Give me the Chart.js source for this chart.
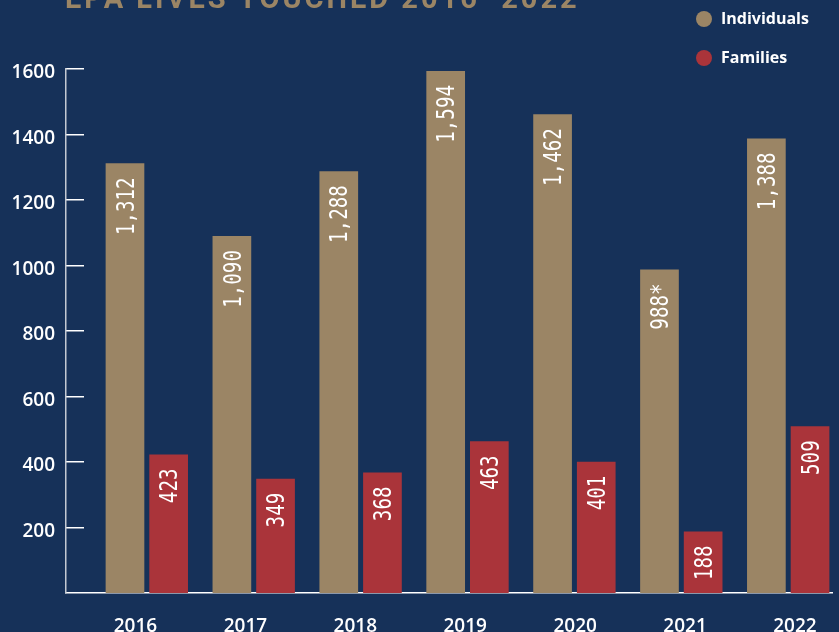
<!DOCTYPE html>
<html>
<head>
<meta charset="utf-8">
<script src="https://cdn.jsdelivr.net/npm/chart.js@4.4.1/dist/chart.umd.min.js"></script>
<style>
  html, body { margin: 0; padding: 0; background: #163159; overflow: hidden; }
  #wrap { position: relative; width: 839px; height: 660px; }
</style>
</head>
<body>
<div id="wrap"><canvas id="chart"></canvas></div>
<script>
"use strict";

    // データ
    const chartTitle = 'EPA LIVES TOUCHED 2016–2022';
    const years = ['2016', '2017', '2018', '2019', '2020', '2021', '2022'];
    const individuals = [1312, 1090, 1288, 1594, 1462, 988, 1388];
    const families = [423, 349, 368, 463, 401, 188, 509];
    const individualLabels = ['1,312', '1,090', '1,288', '1,594', '1,462', '988*', '1,388'];
    const familyLabels = ['423', '349', '368', '463', '401', '188', '509'];
    const yTicks = [200, 400, 600, 800, 1000, 1200, 1400, 1600];

    const TAN = '#9b8565';
    const RED = '#aa343a';

    // 棒の中の縦書きラベル
    const barText = {
        id: 'barText',
        afterDatasetsDraw(chart) {
            const ctx = chart.ctx;
            chart.data.datasets.forEach((ds, di) => {
                const meta = chart.getDatasetMeta(di);
                meta.data.forEach((bar, i) => {
                    ctx.save();
                    ctx.translate(bar.x, bar.y + 14);
                    ctx.rotate(-Math.PI / 2);
                    ctx.scale(0.8, 1);
                    ctx.font = '24px "DejaVu Sans Mono"';
                    ctx.fillStyle = '#ffffff';
                    ctx.textAlign = 'right';
                    ctx.textBaseline = 'alphabetic';
                    ctx.fillText(ds.valueLabels[i], 0, 8.7);
                    ctx.restore();
                });
            });
        }
    };

    // タイトルと凡例
    const header = {
        id: 'header',
        afterDraw(chart) {
            const ctx = chart.ctx;
            ctx.save();
            ctx.font = 'bold 29px Roboto';
            ctx.letterSpacing = '3px';
            ctx.fillStyle = TAN;
            ctx.textAlign = 'left';
            ctx.textBaseline = 'alphabetic';
            ctx.fillText(chartTitle, 65, 8);
            ctx.letterSpacing = '0px';

            chart.data.datasets.forEach((ds, i) => {
                const y = 19 + i * 39;
                ctx.beginPath();
                ctx.arc(704, y, 8, 0, Math.PI * 2);
                ctx.fillStyle = ds.backgroundColor;
                ctx.fill();
                ctx.font = 'bold 16px "Open Sans"';
                ctx.fillStyle = '#ffffff';
                ctx.textBaseline = 'middle';
                ctx.fillText(ds.label, 721, y);
            });
            ctx.restore();
        }
    };

    const yearTicks = (scale) => {
        scale.ticks = years.map((y, i) => ({ value: i }));
    };

    const ctx = document.getElementById('chart').getContext('2d');
    const chart = new Chart(ctx, {
        type: 'bar',
        data: {
            datasets: [{
                label: 'Individuals',
                data: individuals.map((v, i) => ({ x: i, y: v })),
                valueLabels: individualLabels,
                backgroundColor: TAN,
                categoryPercentage: 0.817,
                barPercentage: 0.886,
            }, {
                label: 'Families',
                data: families.map((v, i) => ({ x: i, y: v })),
                valueLabels: familyLabels,
                backgroundColor: RED,
                categoryPercentage: 0.817,
                barPercentage: 0.886,
            }]
        },
        options: {
            responsive: true,
            maintainAspectRatio: false,
            animation: false,
            layout: { padding: { top: 69, left: 0, right: 0, bottom: 0 } },
            plugins: {
                legend: { display: false },
                tooltip: { enabled: false },
            },
            scales: {
                x: {
                    type: 'linear',
                    display: false,
                    offset: false,
                    min: -0.756,
                    max: 6.418,
                    afterBuildTicks: yearTicks,
                },
                x2: {
                    type: 'linear',
                    position: 'bottom',
                    offset: false,
                    min: -0.632,
                    max: 6.345,
                    grid: { display: false, drawTicks: false, offset: false },
                    border: { display: true, color: '#ffffff', width: 1.5 },
                    afterBuildTicks: yearTicks,
                    afterFit: (scale) => { scale.height = 67; },
                    ticks: {
                        autoSkip: false,
                        maxRotation: 0,
                        padding: 22,
                        color: '#ffffff',
                        font: { family: '"Open Sans"', size: 19, weight: '600' },
                        callback: (v) => years[v],
                    }
                },
                y: {
                    min: 0,
                    max: 1600,
                    afterBuildTicks: (scale) => {
                        scale.ticks = yTicks.map(v => ({ value: v }));
                    },
                    afterFit: (scale) => { scale.width = 66; },
                    grid: {
                        drawOnChartArea: false,
                        drawTicks: true,
                        tickLength: -18,
                        color: '#ffffff',
                        lineWidth: 1.5,
                    },
                    border: { display: true, color: '#c3c9d3', width: 1.5 },
                    ticks: {
                        padding: 29,
                        labelOffset: 4,
                        color: '#ffffff',
                        font: { family: '"Open Sans"', size: 19, weight: '600' },
                        callback: (v) => String(v),
                    }
                }
            }
        },
        plugins: [barText, header]
    });
</script>
</body>
</html>
